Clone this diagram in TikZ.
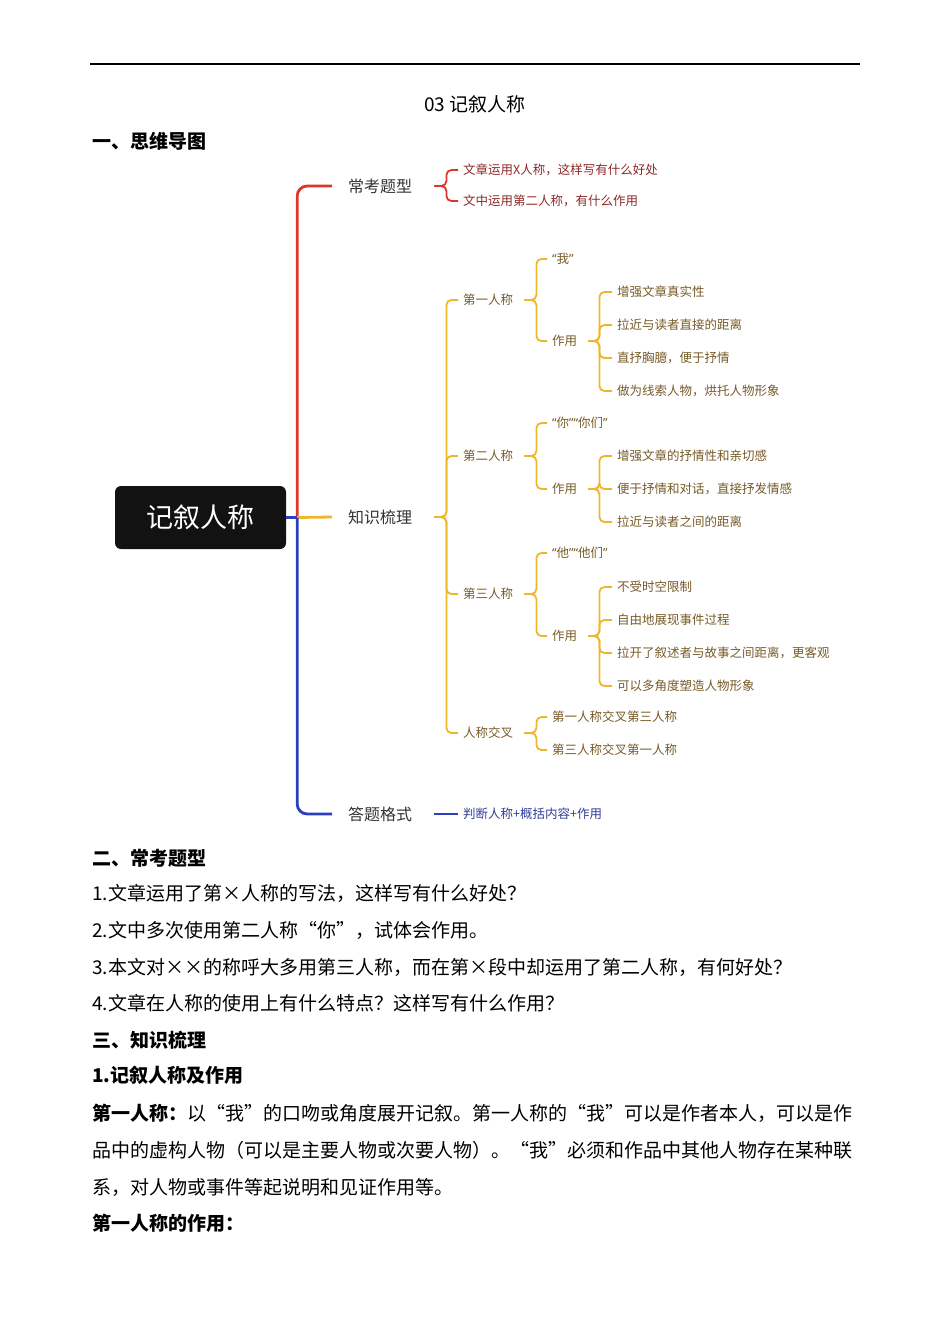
\documentclass[tikz,border=0pt]{standalone}
\usepackage{fontspec}
\setmainfont{Noto Sans CJK SC}
\newfontfamily\quotefont{Noto Sans}
\definecolor{trunkred}{RGB}{221,54,42}
\definecolor{gold}{RGB}{240,182,42}
\definecolor{trunkblue}{RGB}{42,62,190}
\definecolor{redtext}{RGB}{140,40,40}
\definecolor{goldtext}{RGB}{118,90,40}
\definecolor{bluetext}{RGB}{48,60,150}
\newcommand{\openq}{{\quotefont “}}
\newcommand{\closeq}{{\quotefont ”}}
\begin{document}
\begin{tikzpicture}[
        x=1pt, y=-1pt,
        body/.style={anchor=west, inner sep=0pt, font=\fontsize{19}{23}\selectfont},
        head/.style={body, font=\fontsize{19}{23}\selectfont\bfseries},
        root box/.style={fill=black!93, rounded corners=6pt, minimum width=171pt, minimum height=63pt,
            text=white, font=\fontsize{27}{30}\selectfont},
        topic/.style={anchor=west, inner xsep=16pt, inner ysep=2pt, text=black!80, font=\fontsize{16}{18}\selectfont},
        leaf/.style={anchor=west, inner xsep=5pt, inner ysep=1pt, font=\fontsize{12.5}{14}\selectfont},
        trunk/.style={line width=2.8pt, rounded corners=10pt},
        twig/.style={line width=1.8pt, rounded corners=5pt, shorten <=6pt}
      ]

      \useasboundingbox (0,0) rectangle (950,1344);

      \draw [line width=1.5pt] (90,64) -- (860,64);
      \node[body, anchor=center] (title) at (475,104) {03 记叙人称};
      \node[head] (sec1) at (92,141) {一、思维导图};

      % mind map
      \node[root box] (root) at (200.5,517.5) {记叙人称};
      \node[topic] (exam) at (332,186) {常考题型};
      \node[topic] (know) at (332,517) {知识梳理};
      \node[topic] (form) at (332,814) {答题格式};
      \path (root.east) ++(11,0) coordinate (hub);

      \draw [trunk, trunkred] (hub) |- (exam.west);
      \draw [line width=2.8pt, gold] (hub) -- (know.west);
      \draw [trunk, trunkblue] (hub) |- (form.west);
      \draw [line width=2.8pt, trunkblue] (root.east) -- (hub);

      \foreach \t [count=\i] in {文章运用X人称，这样写有什么好处, 文中运用第二人称，有什么作用} {
          \node[leaf, text=redtext] (exam-\i) at (458,139+31*\i) {\t};
          \draw [twig, trunkred] (exam.east) -- ++(18,0) |- (exam-\i.west);
        }

      \node[leaf, text=bluetext] (form-1) at (458,814) {判断人称+概括内容+作用};
      \draw [twig, trunkblue] (form.east) -- (form-1.west);

      \foreach \t/\y [count=\i] in {第一人称/300, 第二人称/456, 第三人称/594, 人称交叉/733} {
          \node[leaf, text=goldtext] (know-\i) at (458,\y) {\t};
          \draw [twig, gold] (know.east) -- ++(18,0) |- (know-\i.west);
        }

      \node[leaf, text=goldtext] (p1-1) at (547,259) {\openq 我\closeq};
      \node[leaf, text=goldtext] (p1-2) at (547,341) {作用};
      \node[leaf, text=goldtext] (p2-1) at (547,423) {\openq 你\closeq\openq 你们\closeq};
      \node[leaf, text=goldtext] (p2-2) at (547,489) {作用};
      \node[leaf, text=goldtext] (p3-1) at (547,553) {\openq 他\closeq\openq 他们\closeq};
      \node[leaf, text=goldtext] (p3-2) at (547,636) {作用};
      \node[leaf, text=goldtext] (p4-1) at (547,717) {第一人称交叉第三人称};
      \node[leaf, text=goldtext] (p4-2) at (547,750) {第三人称交叉第一人称};

      \foreach \p in {1,...,4} {
          \foreach \c in {1,2} {
              \draw [twig, gold] (know-\p.east) -- ++(18,0) |- (p\p-\c.west);
            }
        }

      \foreach \t [count=\i] in {增强文章真实性, 拉近与读者直接的距离, 直抒胸臆，便于抒情, 做为线索人物，烘托人物形象} {
          \node[leaf, text=goldtext] (u1-\i) at (612,259+33*\i) {\t};
          \draw [twig, gold] (p1-2.east) -- ++(17,0) |- (u1-\i.west);
        }
      \foreach \t [count=\i] in {增强文章的抒情性和亲切感, 便于抒情和对话，直接抒发情感, 拉近与读者之间的距离} {
          \node[leaf, text=goldtext] (u2-\i) at (612,423+33*\i) {\t};
          \draw [twig, gold] (p2-2.east) -- ++(17,0) |- (u2-\i.west);
        }
      \foreach \t [count=\i] in {不受时空限制, 自由地展现事件过程, 拉开了叙述者与故事之间距离，更客观, 可以多角度塑造人物形象} {
          \node[leaf, text=goldtext] (u3-\i) at (612,554+33*\i) {\t};
          \draw [twig, gold] (p3-2.east) -- ++(17,0) |- (u3-\i.west);
        }

      % text below the map
      \node[head] (sec2) at (92,858) {二、常考题型};
      \node[body] (q1) at (92,893) {1.文章运用了第×人称的写法，这样写有什么好处？};
      \node[body] (q2) at (92,930) {2.文中多次使用第二人称“你”，试体会作用。};
      \node[body] (q3) at (92,967) {3.本文对××的称呼大多用第三人称，而在第×段中却运用了第二人称，有何好处？};
      \node[body] (q4) at (92,1003) {4.文章在人称的使用上有什么特点？这样写有什么作用？};
      \node[head] (sec3) at (92,1040) {三、知识梳理};
      \node[head] (sub1) at (92,1075) {1.记叙人称及作用};
      \node[body] (par1) at (92,1113) {\textbf{第一人称：}以“我”的口吻或角度展开记叙。第一人称的“我”可以是作者本人，可以是作};
      \node[body] (par2) at (92,1150) {品中的虚构人物（可以是主要人物或次要人物）。“我”必须和作品中其他人物存在某种联};
      \node[body] (par3) at (92,1187) {系，对人物或事件等起说明和见证作用等。};
      \node[head] (sub2) at (92,1223) {第一人称的作用：};

    \end{tikzpicture}
\end{document}
